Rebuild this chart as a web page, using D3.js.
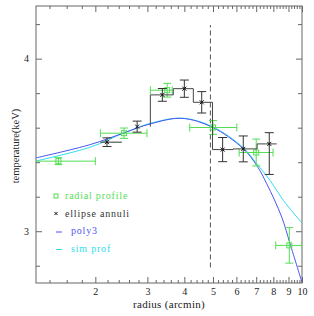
<!DOCTYPE html>
<html>
<head>
<meta charset="utf-8">
<script src="https://cdn.jsdelivr.net/npm/d3@7"></script>
<style>
  body { margin: 0; background: #fff; }
  text { font-family: "Liberation Serif", serif; }
</style>
</head>
<body>
<div id="chart"></div>
<script>
'use strict';

// ---------- data ---------- //
// radial profile (green squares)
var radR    = [1.5, 2.5, 3.5, 5.0, 7.0, 9.06];
var radRLo  = [1.0, 2.08, 3.07, 4.17, 6.13, 8.15];
var radRHi  = [2.0, 2.99, 3.64, 6.02, 7.98, 10.0];
var radT    = [3.406, 3.568, 3.817, 3.601, 3.456, 2.918];
var radTErr = [0.02, 0.03, 0.04, 0.04, 0.078, 0.103];

// ellipse annuli (black crosses, step line)
var ellR     = [2.19, 2.77, 3.37, 4.0, 4.58, 5.39, 6.33, 7.75];
var ellRLo   = [2.08, 2.77, 3.07, 3.67, 4.29, 4.98, 5.85, 7.05];
var ellRHi   = [2.46, 2.77, 3.67, 4.29, 4.98, 5.85, 7.05, 8.21];
var ellT     = [3.516, 3.606, 3.79, 3.826, 3.747, 3.473, 3.477, 3.506];
var ellTUp   = [0.025, 0.032, 0.037, 0.05, 0.062, 0.07, 0.075, 0.065];
var ellTDown = [0.025, 0.032, 0.037, 0.05, 0.062, 0.07, 0.075, 0.177];

// fitted curves
var polyR = [1.26, 1.922, 2.52, 3.07, 3.92, 4.98, 6.32, 7.03, 7.60, 8.54, 9.11, 10.0];
var polyT = [3.425, 3.502, 3.572, 3.622, 3.654, 3.602, 3.479, 3.381, 3.275, 3.082, 2.928, 2.703];
var simR  = [1.26, 1.922, 2.52, 3.07, 3.92, 4.98, 6.32, 7.03, 7.80, 8.65, 10.0];
var simT  = [3.407, 3.487, 3.572, 3.625, 3.655, 3.606, 3.485, 3.392, 3.294, 3.179, 3.047];

// dashed marker
var cutR = 4.9;
var cutT = [2.79, 4.195];

var xMajor = [2, 3, 4, 5, 6, 7, 8, 9, 10];
var yMajor = [3, 4];

var legendNames = ['radial profile', 'ellipse annuli', 'poly3', 'sim prof'];

// ---------- colours ---------- //
var green = '#55dd55';
var dark = '#333333';
var blue = '#4a55f0';
var cyan = '#30dcee';
var axisCol = '#666666';

// ---------- build the graph ---------- //
var width = 314;
var height = 316;
var pLeft = 36, pRight = 302, pTop = 6, pBottom = 283;

var svg = d3.select('#chart').append('svg')
  .attr('width', width)
  .attr('height', height);

var x = d3.scaleLog().domain([1.26, 10]).range([pLeft, pRight]);
var y = d3.scaleLinear().domain([2.7, 4.305]).range([pBottom, pTop]);

svg.append('clipPath').attr('id', 'clip')
  .append('rect')
  .attr('x', pLeft).attr('y', pTop)
  .attr('width', pRight - pLeft).attr('height', pBottom - pTop);

// minor tick values
var xMinor = d3.range(1.4, 10.0001, 0.2).filter(function (v) {
  return xMajor.every(function (m) { return Math.abs(m - v) > 1e-6; });
});
var yMinor = d3.range(2.8, 4.3, 0.2).filter(function (v) {
  return yMajor.every(function (m) { return Math.abs(m - v) > 1e-6; });
});

function addAxis(gen, tx, ty) {
  var g = svg.append('g').attr('transform', 'translate(' + tx + ',' + ty + ')').call(gen);
  g.selectAll('path, line').attr('stroke', axisCol);
  g.select('.domain').remove();
  return g;
}

// inward ticks, all four sides
addAxis(d3.axisBottom(x).tickValues(xMinor).tickSize(-3).tickFormat(''), 0, pBottom);
addAxis(d3.axisTop(x).tickValues(xMinor).tickSize(-3).tickFormat(''), 0, pTop);
addAxis(d3.axisTop(x).tickValues(xMajor).tickSize(-6).tickFormat(''), 0, pTop);
var xb = addAxis(d3.axisBottom(x).tickValues(xMajor).tickSize(-6).tickPadding(5)
  .tickFormat(d3.format('d')), 0, pBottom);
xb.selectAll('text').attr('font-size', 10).attr('fill', '#222')
  .attr('font-family', '"Liberation Serif", serif');

addAxis(d3.axisLeft(y).tickValues(yMinor).tickSize(-4).tickFormat(''), pLeft, 0);
addAxis(d3.axisRight(y).tickValues(yMinor).tickSize(-4).tickFormat(''), pRight, 0);
addAxis(d3.axisRight(y).tickValues(yMajor).tickSize(-6).tickFormat(''), pRight, 0);
var yl = addAxis(d3.axisLeft(y).tickValues(yMajor).tickSize(-6).tickPadding(7)
  .tickFormat(d3.format('d')), pLeft, 0);
yl.selectAll('text').attr('font-size', 10).attr('fill', '#222')
  .attr('font-family', '"Liberation Serif", serif');

// frame
svg.append('rect')
  .attr('x', pLeft).attr('y', pTop)
  .attr('width', pRight - pLeft).attr('height', pBottom - pTop)
  .attr('fill', 'none').attr('stroke', axisCol);

// axis titles
svg.append('text')
  .attr('x', 169).attr('y', 308)
  .attr('text-anchor', 'middle').attr('font-size', 11).attr('fill', '#222')
  .attr('letter-spacing', 0.3)
  .text('radius (arcmin)');
svg.append('text')
  .attr('transform', 'translate(19,' + 146 + ') rotate(-90)')
  .attr('text-anchor', 'middle').attr('font-size', 10.5).attr('fill', '#222')
  .text('temperature(keV)');

var plot = svg.append('g').attr('clip-path', 'url(#clip)');

// curves
var line = d3.line()
  .x(function (d) { return x(d[0]); })
  .y(function (d) { return y(d[1]); })
  .curve(d3.curveCatmullRom);

plot.append('path')
  .datum(d3.zip(simR, simT))
  .attr('d', line).attr('fill', 'none').attr('stroke', cyan).attr('stroke-width', 1);
plot.append('path')
  .datum(d3.zip(polyR, polyT))
  .attr('d', line).attr('fill', 'none').attr('stroke', blue).attr('stroke-width', 1);

// dashed line
plot.append('line')
  .attr('x1', x(cutR)).attr('x2', x(cutR))
  .attr('y1', y(cutT[0])).attr('y2', y(cutT[1]))
  .attr('stroke', '#555').attr('stroke-dasharray', '5,3');

// radial profile
var cap = 4;
radR.forEach(function (r, i) {
  var g = plot.append('g').attr('stroke', green).attr('fill', 'none');
  var cx = x(r), cy = y(radT[i]);
  var x0 = x(radRLo[i]), x1 = x(radRHi[i]);
  var yt = y(radT[i] + radTErr[i]), yb = y(radT[i] - radTErr[i]);
  g.append('line').attr('x1', x0).attr('x2', x1).attr('y1', cy).attr('y2', cy);
  g.append('line').attr('x1', x0).attr('x2', x0).attr('y1', cy - cap).attr('y2', cy + cap);
  g.append('line').attr('x1', x1).attr('x2', x1).attr('y1', cy - cap).attr('y2', cy + cap);
  g.append('line').attr('x1', cx).attr('x2', cx).attr('y1', yt).attr('y2', yb);
  g.append('line').attr('x1', cx - cap).attr('x2', cx + cap).attr('y1', yt).attr('y2', yt);
  g.append('line').attr('x1', cx - cap).attr('x2', cx + cap).attr('y1', yb).attr('y2', yb);
  g.append('rect').attr('x', cx - 2.5).attr('y', cy - 2.5).attr('width', 5).attr('height', 5);
});

// ellipse annuli: step line
var step = [];
for (var i = 2; i < ellR.length; i++) {
  step.push([x(ellRLo[i]), y(ellT[i - 1])]);
  step.push([x(ellRLo[i]), y(ellT[i])]);
  step.push([x(ellRHi[i]), y(ellT[i])]);
}
plot.append('path')
  .attr('d', d3.line()(step))
  .attr('fill', 'none').attr('stroke', '#444');

ellR.forEach(function (r, i) {
  var g = plot.append('g').attr('stroke', dark).attr('fill', 'none');
  var cx = x(r), cy = y(ellT[i]);
  var yt = y(ellT[i] + ellTUp[i]), yb = y(ellT[i] - ellTDown[i]);
  if (i < 2) {
    g.append('line').attr('x1', x(ellRLo[i])).attr('x2', x(ellRHi[i])).attr('y1', cy).attr('y2', cy);
  }
  g.append('line').attr('x1', cx).attr('x2', cx).attr('y1', yt).attr('y2', yb);
  g.append('line').attr('x1', cx - 4.5).attr('x2', cx + 4.5).attr('y1', yt).attr('y2', yt);
  g.append('line').attr('x1', cx - 4.5).attr('x2', cx + 4.5).attr('y1', yb).attr('y2', yb);
  g.append('path')
    .attr('d', 'M' + (cx - 2) + ',' + (cy - 2) + 'L' + (cx + 2) + ',' + (cy + 2) +
               'M' + (cx - 2) + ',' + (cy + 2) + 'L' + (cx + 2) + ',' + (cy - 2))
    .attr('stroke', '#111');
});

// ---------- legend ---------- //
var legCols = [green, dark, blue, cyan];
var legY = [196, 213.5, 231, 248.5];
legendNames.forEach(function (name, i) {
  var ly = legY[i];
  var tx = i < 2 ? 65 : 71;
  if (i === 0) {
    svg.append('rect').attr('x', 54).attr('y', ly - 2).attr('width', 4).attr('height', 4)
      .attr('fill', 'none').attr('stroke', green);
  } else if (i === 1) {
    svg.append('path')
      .attr('d', 'M54.5,' + (ly - 1.5) + 'L57.5,' + (ly + 1.5) + 'M54.5,' + (ly + 1.5) + 'L57.5,' + (ly - 1.5))
      .attr('stroke', '#111');
  } else {
    svg.append('line').attr('x1', 56).attr('x2', 62).attr('y1', ly + 1).attr('y2', ly + 1)
      .attr('stroke', legCols[i]);
  }
  svg.append('text')
    .attr('x', tx).attr('y', ly + 3)
    .attr('font-size', 10).attr('fill', legCols[i])
    .attr('letter-spacing', 0.8)
    .text(name);
});
</script>
</body>
</html>
